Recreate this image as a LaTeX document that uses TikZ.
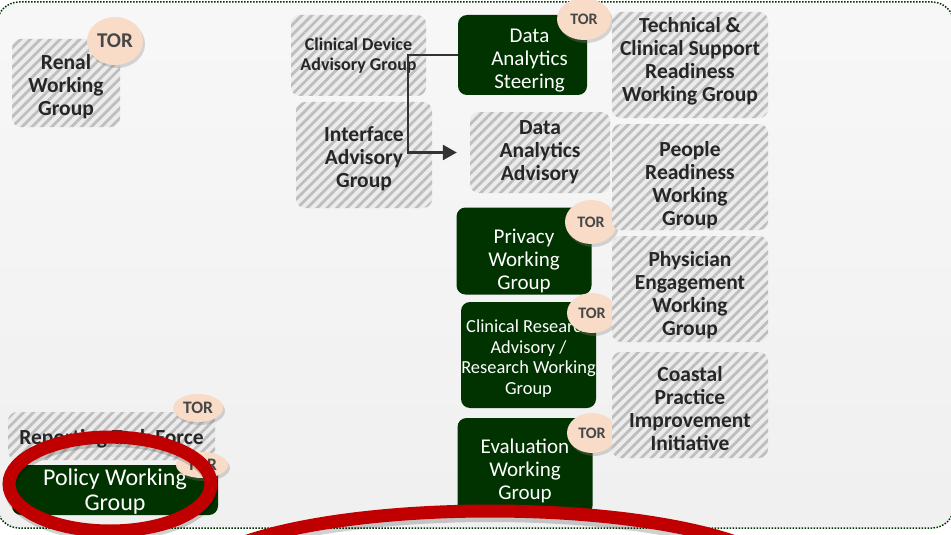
\documentclass[tikz,border=0pt]{standalone}
\usepackage{fontspec}
\setmainfont{Carlito}
\usetikzlibrary{shapes.geometric,patterns.meta,shadows,arrows.meta}

\definecolor{darkgreen}{RGB}{0,51,0}
\definecolor{hatchbg}{RGB}{236,236,236}
\definecolor{hatchline}{RGB}{190,190,190}
\definecolor{torfill}{RGB}{248,220,200}
\definecolor{ringred}{RGB}{192,0,0}
\definecolor{inktext}{RGB}{38,38,38}

\newcommand{\push}[1]{\rule{0pt}{#1pt}}

\tikzset{
  hatch/.style={rectangle, rounded corners=9pt, inner sep=0pt, align=center,
    preaction={fill=hatchbg},
    pattern={Lines[angle=45,distance=7pt,line width=2.8pt]}, pattern color=hatchline,
    text=inktext, font=\bfseries\fontsize{21.5}{23}\selectfont},
  steer/.style={rectangle, rounded corners=9pt, inner sep=0pt, align=center,
    fill=darkgreen, text=white, font=\fontsize{21}{23}\selectfont},
  tor/.style={ellipse, fill=torfill, inner sep=0pt, text=black!72,
    font=\bfseries\fontsize{16}{18}\selectfont,
    drop shadow={shadow xshift=2pt, shadow yshift=-3pt, opacity=0.3}},
  ring/.style={draw=ringred, line width=13pt},
  ringshadow/.style={draw=black, opacity=0.18, line width=12pt},
}

\begin{document}
\begin{tikzpicture}[x=1pt,y=-1pt]
  \fill[white] (0,0) rectangle (951,535);
  \useasboundingbox (0,0) rectangle (951,535);
  \clip (0,0) rectangle (951,535);
  \draw[top color=black!3, bottom color=black!6, draw=darkgreen, line width=1.5pt,
        dash pattern=on 1.5pt off 1.5pt, rounded corners=22pt] (-3,2) rectangle (954,528);

  \node[hatch, minimum width=108pt, minimum height=88pt] (renal) at (66,83) {\push{22}Renal\\Working\\Group};
  \node[hatch, minimum width=135pt, minimum height=81pt, font=\bfseries\fontsize{18}{20}\selectfont]
       (cdag) at (358.5,55.5) {Clinical Device\\Advisory Group};
  \node[hatch, minimum width=136pt, minimum height=106pt] (iag) at (364,155) {\push{22}Interface\\Advisory\\Group};
  \node[hatch, minimum width=140pt, minimum height=81pt] (daa) at (540,152.5) {Data\\Analytics\\Advisory};
  \node[hatch, minimum width=207pt, minimum height=48pt] (rtf) at (111.5,436) {\push{20}Reporting Task Force};

  \node[steer, minimum width=129pt, minimum height=80pt] (das) at (522.5,55) {\push{24}\hspace*{14pt}Data\\\hspace*{14pt}Analytics\\\hspace*{14pt}Steering};
  \node[steer, minimum width=135pt, minimum height=87pt] (privacy) at (524,251) {\push{34}Privacy\\Working\\Group};
  \node[steer, minimum width=135pt, minimum height=106pt, font=\fontsize{18.4}{20.5}\selectfont]
       (cra) at (528.5,355) {\push{20}Clinical Research\\Advisory /\\Research Working\\Group};
  \node[steer, minimum width=135pt, minimum height=97pt] (eval) at (525,466.5) {\push{24}Evaluation\\Working\\Group};
  \node[steer, minimum width=206pt, minimum height=50pt, font=\fontsize{24}{25}\selectfont]
       (policy) at (115,490) {\push{20}Policy Working\\Group};

  \node[tor, minimum width=56pt, minimum height=48pt, font=\bfseries\fontsize{21}{22}\selectfont]
       (renal_tor) at (115,41) {TOR};
  \node[tor, minimum width=54pt, minimum height=42pt] (das_tor) at (584,19) {TOR};
  \node[tor, minimum width=52pt, minimum height=44pt] (privacy_tor) at (591,222) {TOR};
  \node[tor, minimum width=50pt, minimum height=40pt] (cra_tor) at (592,313) {TOR};
  \node[tor, minimum width=50pt, minimum height=40pt] (eval_tor) at (592,433) {TOR};
  \node[tor, minimum width=50pt, minimum height=28pt, font=\bfseries\fontsize{17.5}{18}\selectfont]
       (rtf_tor) at (198,408) {TOR};
  \node[tor, minimum width=52pt, minimum height=26pt, font=\bfseries\fontsize{17.5}{18}\selectfont]
       (policy_tor) at (202,465) {TOR};

  \node[hatch, minimum width=156pt, minimum height=106pt] (tcs) at (690,65) {Technical \&\\Clinical Support\\Readiness\\Working Group\rule[-12pt]{0pt}{12pt}};
  \node[hatch, minimum width=156pt, minimum height=106pt] (prwg) at (690,177) {\push{32}People\\Readiness\\Working\\Group};
  \node[hatch, minimum width=156pt, minimum height=106pt] (pewg) at (690,289) {\push{28}Physician\\Engagement\\Working\\Group};
  \node[hatch, minimum width=156pt, minimum height=106pt] (cpii) at (690,405) {\push{22}Coastal\\Practice\\Improvement\\Initiative};

  \draw[line width=2.5pt, draw=black!80, -{Triangle[length=14pt,width=15pt]}, shorten >=13pt]
       (das.west) -- ++(-50,0) |- (daa.west);

  \draw[ringshadow] (111,488) ellipse [x radius=101, y radius=47];
  \draw[ring] (110,484) ellipse [x radius=101, y radius=47];
  \draw[ringshadow] (490,589) ellipse [x radius=300, y radius=73];
  \draw[ring] (490,584) ellipse [x radius=300, y radius=73];
\end{tikzpicture}
\end{document}
